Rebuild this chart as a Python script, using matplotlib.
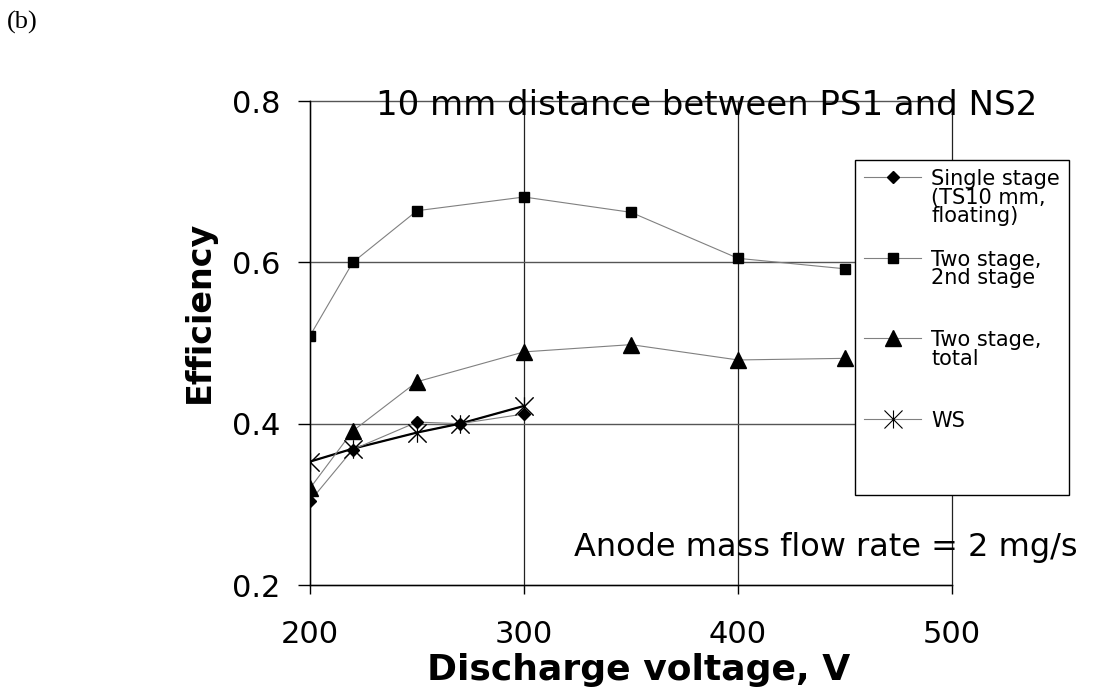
import matplotlib
matplotlib.use("Agg")
import matplotlib.pyplot as plt
from matplotlib.path import Path
from matplotlib.legend_handler import HandlerLine2D

plt.rcParams['font.family'] = ['DejaVu Sans']

# values (discharge voltage in V, efficiency)
single_v = [200, 220, 250, 270, 300]
single_eff = [0.304, 0.368, 0.402, 0.400, 0.412]

two_v = [200, 220, 250, 300, 350, 400, 450]
two_2nd_eff = [0.509, 0.600, 0.664, 0.681, 0.662, 0.605, 0.592]
two_total_eff = [0.320, 0.391, 0.452, 0.489, 0.498, 0.479, 0.481]

ws_v = [200, 220, 250, 270, 300]
ws_eff = [0.353, 0.369, 0.389, 0.400, 0.422]

labels = ["Single stage\n(TS10 mm,\nfloating)\n",
          "Two stage,\n2nd stage\n\n",
          "Two stage,\ntotal\n\n",
          "WS\n\n\n"]
xticks = [200, 300, 400, 500]
yticks = [0.2, 0.4, 0.6, 0.8]

top_note = "10 mm distance between PS1 and NS2"
flow_note = "Anode mass flow rate = 2 mg/s"

# excel style asterisk: vertical bar + x
asterisk = Path([(0, -1), (0, 1), (-1, -1), (1, 1), (-1, 1), (1, -1)],
                [Path.MOVETO, Path.LINETO, Path.MOVETO, Path.LINETO,
                 Path.MOVETO, Path.LINETO])


class FirstLineHandler(HandlerLine2D):
    # put the legend key next to the first line of a multi-line label
    def __init__(self, shift, **kw):
        super().__init__(**kw)
        self.shift = shift

    def create_artists(self, legend, orig_handle, xdescent, ydescent,
                       width, height, fontsize, trans):
        return super().create_artists(legend, orig_handle, xdescent,
                                      ydescent - 2 * self.shift * fontsize,
                                      width, height, fontsize, trans)


fig = plt.figure(figsize=(11.08, 6.89), dpi=100)
ax = fig.add_axes([0.2798, 0.1509, 0.5794, 0.7025])

grey = '#808080'
h1, = ax.plot(single_v, single_eff, color=grey, lw=0.8, marker='D', ms=6,
              mfc='k', mec='k', zorder=3)
h2, = ax.plot(two_v, two_2nd_eff, color=grey, lw=0.8, marker='s', ms=7,
              mfc='k', mec='k', zorder=3)
h3, = ax.plot(two_v, two_total_eff, color=grey, lw=0.8, marker='^', ms=11.5,
              mfc='k', mec='k', zorder=3)
h4, = ax.plot(ws_v, ws_eff, color=grey, lw=0.8, marker=asterisk, ms=13,
              mfc='none', mec='k', mew=0.8, zorder=2)
ax.plot(ws_v, ws_eff, color='k', lw=1.6, zorder=2.5)
ax.plot(ws_v, ws_eff, ls='none', marker=asterisk, ms=13, mfc='none',
        mec='k', mew=0.8, zorder=3)

ax.set_xlim(200, 500)
ax.set_ylim(0.2, 0.8)
ax.set_xticks(xticks)
ax.set_yticks(yticks)
ax.set_yticklabels([f"{t:.1f}" for t in yticks])
ax.tick_params(axis='y', direction='out', length=8.6, width=1, pad=13, labelsize=22)
ax.tick_params(axis='x', direction='out', length=6.5, width=1, pad=19, labelsize=22)
ax.grid(True, axis='y', color='#555555', lw=1.0)
ax.grid(True, axis='x', color='#222222', lw=0.9)
ax.set_axisbelow(True)
for gl in ax.get_xgridlines() + ax.get_ygridlines():
    gl.set_clip_on(False)
for s in ['top', 'right']:
    ax.spines[s].set_visible(False)
for s in ['left', 'bottom']:
    ax.spines[s].set_linewidth(1.0)

ax.set_xlabel('Discharge voltage, V', fontsize=26, fontweight='bold',
              ha='center', va='baseline')
ax.xaxis.set_label_coords(0.5125, -0.196)
ax.set_ylabel('Efficiency', fontsize=24, fontweight='bold',
              ha='center', va='baseline')
ax.yaxis.set_label_coords(-0.157, 0.564)

ax.text(385.5, 0.7826, top_note, ha='center', va='baseline', fontsize=24.5,
        clip_on=False)
ax.text(558.9, 0.236, flow_note, ha='right', va='baseline', fontsize=23,
        clip_on=False)

handler = FirstLineHandler(1.45)
leg = ax.legend([h1, h2, h3, h4], labels, loc='upper left',
                bbox_to_anchor=(855 / 1108, 1 - 160 / 689),
                bbox_transform=fig.transFigure, borderaxespad=0,
                fontsize=15, labelspacing=0.25, borderpad=0.45,
                handlelength=2.7, handletextpad=0.5, fancybox=False,
                framealpha=1, edgecolor='k',
                handler_map={h: handler for h in [h1, h2, h3, h4]})
leg.get_frame().set_linewidth(1.0)
for t in leg.get_texts():
    t.set_linespacing(0.9)

fig.text(0.0063, 1 - 29 / 689, '(b)', family='Liberation Serif', fontsize=19,
         va='baseline')

fig.savefig('out.png', dpi=100)
